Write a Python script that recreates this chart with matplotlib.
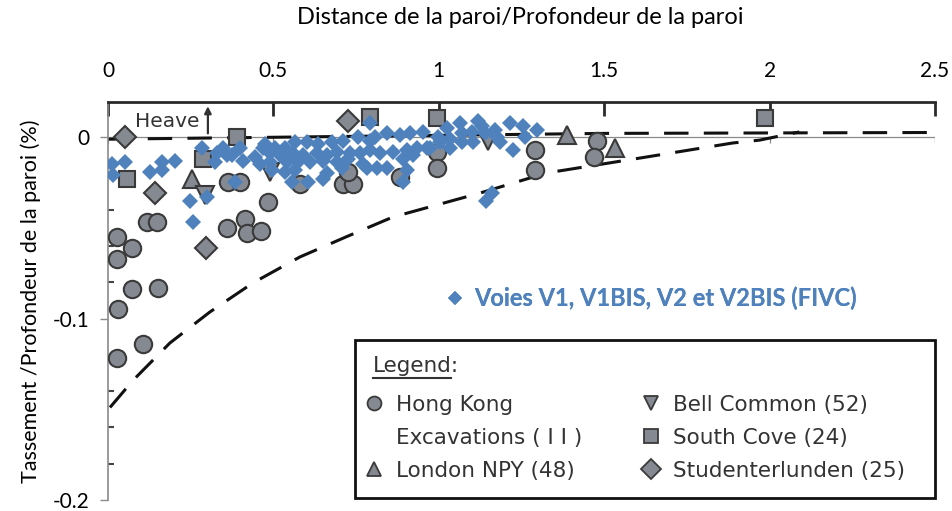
import matplotlib
matplotlib.use("Agg")
import matplotlib.pyplot as plt
from matplotlib.lines import Line2D
from matplotlib.patches import Rectangle

# --- data (x = distance/depth, y = settlement/depth %) ---
blue_x = [0.012, 0.051, 0.015, 0.127, 0.163, 0.163, 0.202, 0.248, 0.299, 0.257, 0.284,
          0.323, 0.329, 0.347, 0.375, 0.399, 0.384, 0.408, 0.444, 0.459, 0.468, 0.360,
          0.474, 0.505, 0.535, 0.565, 0.601, 0.634, 0.677, 0.710, 0.755, 0.792, 0.807,
          0.843, 0.882, 0.912, 0.952, 0.792,
          0.489, 0.520, 0.559, 0.589, 0.631, 0.662, 0.692, 0.731, 0.761, 0.792, 0.822,
          0.861, 0.903, 0.934, 0.964,
          0.489, 0.541, 0.574, 0.610, 0.650, 0.692, 0.725, 0.770, 0.813, 0.843, 0.891, 0.921,
          0.495, 0.535, 0.565, 0.662, 0.707, 0.782, 0.903,
          0.556, 0.604, 0.650, 0.891,
          0.973, 0.997, 1.024, 1.033, 1.063, 1.069, 1.100, 1.118, 1.130, 1.139, 1.169, 1.175,
          1.184, 1.214, 1.254, 1.260, 1.296, 1.224, 1.033, 1.069, 1.103, 1.003, 1.142, 1.160]
blue_y = [-0.015, -0.014, -0.021, -0.019, -0.014, -0.018, -0.013, -0.035, -0.033, -0.047, -0.006,
          -0.014, -0.009, -0.006, -0.010, -0.006, -0.025, -0.013, -0.011, -0.015, -0.006, -0.010,
          -0.004, -0.006, -0.006, -0.003, -0.003, -0.004, -0.003, -0.002, 0.000, -0.002, 0.000,
          0.002, 0.001, 0.002, 0.003, 0.008,
          -0.009, -0.010, -0.009, -0.010, -0.009, -0.010, -0.008, -0.009, -0.009, -0.007, -0.009,
          -0.008, -0.007, -0.006, -0.006,
          -0.014, -0.014, -0.014, -0.014, -0.013, -0.014, -0.012, -0.015, -0.017, -0.017, -0.012, -0.010,
          -0.018, -0.019, -0.018, -0.020, -0.017, -0.017, -0.018,
          -0.025, -0.025, -0.023, -0.025,
          -0.006, 0.000, 0.005, -0.001, 0.008, 0.002, 0.003, 0.009, 0.006, 0.002, 0.004, 0.000,
          -0.003, 0.008, 0.006, 0.000, 0.004, -0.007, -0.006, -0.003, -0.003, -0.003, -0.035, -0.031]

hk_x = [0.027, 0.073, 0.027, 0.073, 0.151, 0.030, 0.106, 0.027, 0.118, 0.148, 0.360, 0.414,
        0.420, 0.462, 0.483, 0.363, 0.399, 0.580, 0.710, 0.740, 0.725, 0.882, 0.994, 0.994,
        1.290, 1.290, 1.477, 1.468]
hk_y = [-0.055, -0.061, -0.067, -0.084, -0.083, -0.095, -0.114, -0.122, -0.047, -0.047, -0.050, -0.045,
        -0.053, -0.052, -0.036, -0.025, -0.025, -0.026, -0.026, -0.026, -0.019, -0.022, -0.008, -0.017,
        -0.007, -0.018, -0.002, -0.011]

npy_x = [0.254, 1.387, 1.532]
npy_y = [-0.023, 0.001, -0.006]

bell_x = [0.293, 0.489, 1.148]
bell_y = [-0.032, -0.019, -0.002]

cove_x = [0.057, 0.287, 0.390, 0.792, 0.994, 1.985]
cove_y = [-0.023, -0.012, 0.000, 0.011, 0.0105, 0.0105]

stud_x = [0.051, 0.142, 0.296, 0.725]
stud_y = [0.000, -0.031, -0.061, 0.009]

# envelope curves of the scanned chart
lower_x = [0.006, 0.076, 0.187, 0.308, 0.438, 0.580, 0.72, 0.861, 1.124, 1.326, 1.628,
           1.888, 1.970, 2.09]
lower_y = [-0.149, -0.134, -0.1135, -0.0964, -0.0804, -0.0661, -0.055, -0.0441, -0.0309,
           -0.0198, -0.0110, -0.0033, -0.0017, 0.0028]
upper_x = [0.0, 1.5, 2.5]
upper_y = [-0.0012, 0.002, 0.0025]

x_ticks = [0, 0.5, 1, 1.5, 2, 2.5]
x_labels = ["0", "0.5", "1", "1.5", "2", "2.5"]
y_ticks = [0, -0.1, -0.2]
y_labels = ["0", "-0.1", "-0.2"]

BLUE = "#4F81BD"
GREY_FACE = "#858a92"
GREY_EDGE = "#3a3a3a"
CALIBRI = ["Lato", "DejaVu Sans"]
W, H = 952, 511

fig = plt.figure(figsize=(9.52, 5.11), dpi=100)
ax = fig.add_axes([108 / W, 11 / H, 827 / W, 398 / H])
ax.set_xlim(0, 2.5)
ax.set_ylim(-0.2, 0.0193)

# scanned envelope lines
ax.plot(lower_x, lower_y, color="#111111", lw=2.2, dashes=(8, 5), zorder=2)
ax.plot(upper_x, upper_y, color="#111111", lw=2.2, dashes=(8, 5), zorder=2)
ax.axhline(0, color="#8a8a8a", lw=0.9, zorder=1)
ax.vlines(x_ticks, -0.0035, 0, color="#8a8a8a", lw=0.9, zorder=1)

grey = dict(linestyle="none", markerfacecolor=GREY_FACE, markeredgecolor=GREY_EDGE,
            markeredgewidth=1.5, zorder=3)
ax.plot(hk_x, hk_y, marker="o", markersize=12.5, **grey)
ax.plot(npy_x, npy_y, marker="^", markersize=12.5, **grey)
ax.plot(bell_x, bell_y, marker="v", markersize=12.5, **grey)
ax.plot(cove_x, cove_y, marker="s", markersize=11, **grey)
ax.plot(stud_x, stud_y, marker="D", markersize=11, **grey)

blue_line, = ax.plot(blue_x, blue_y, marker="D", markersize=8.5, linestyle="none",
                     color=BLUE, markeredgewidth=0, zorder=5)

# "Heave" note from the scan
ax.text(0.082, 0.0088, "Heave", fontsize=14.5, color="#333333", va="center", ha="left",
        family="DejaVu Sans")
ax.annotate("", xy=(0.302, 0.0185), xytext=(0.302, 0.0005),
            arrowprops=dict(arrowstyle="-|>", color="#333333", lw=1.6, mutation_scale=10))

# axes styling
for s in ["right", "bottom"]:
    ax.spines[s].set_visible(False)
ax.spines["left"].set_color("#8a8a8a")
ax.spines["left"].set_linewidth(1.2)
ax.spines["top"].set_color("#2a2a2a")
ax.spines["top"].set_linewidth(2)

ax.xaxis.tick_top()
ax.set_xticks(x_ticks)
ax.set_xticklabels(x_labels, family=CALIBRI, fontsize=15)
ax.tick_params(axis="x", direction="in", length=10, width=2, color="#2a2a2a", pad=15)
ax.set_yticks(y_ticks)
ax.set_yticklabels(y_labels, family=CALIBRI, fontsize=15)
ax.set_yticks([-0.18, -0.16, -0.14, -0.12, -0.08, -0.06, -0.04, -0.02], minor=True)
ax.tick_params(axis="y", which="major", direction="out", length=6, width=1, color="#8a8a8a", pad=7)
ax.tick_params(axis="y", which="minor", direction="in", length=4, width=1.5, color="#444444")

ax.set_ylabel("Tassement /Profondeur de la paroi (%)", family=CALIBRI, fontsize=15.5, labelpad=9)
fig.text(0.546, 1 - 18 / H, "Distance de la paroi/Profondeur de la paroi",
         family=CALIBRI, fontsize=17, ha="center", va="center")

# blue series key
leg_blue = ax.legend([blue_line], ["Voies V1, V1BIS, V2 et V2BIS (FIVC)"], loc="center left",
                     bbox_to_anchor=(446 / W, 1 - 298 / H), bbox_transform=fig.transFigure,
                     frameon=False, handlelength=0.8, handletextpad=0.4, borderpad=0,
                     borderaxespad=0, prop=dict(family=CALIBRI, size=17, weight="bold"),
                     labelcolor=BLUE, markerscale=0.85)
ax.add_artist(leg_blue)

# scanned legend box: frame, underlined heading, entries
fig.add_artist(Rectangle((355 / W, 1 - 498 / H), 580 / W, 158 / H, transform=fig.transFigure,
                         facecolor="white", edgecolor="#111111", lw=2, zorder=6))
head = fig.text(373 / W, 1 - 366 / H, "Legend:", family="DejaVu Sans", fontsize=15.5,
                color="#333333", ha="left", va="center", zorder=7)


def key(marker, size):
    return Line2D([], [], linestyle="none", marker=marker, markersize=size,
                  markerfacecolor=GREY_FACE, markeredgecolor=GREY_EDGE, markeredgewidth=1.3)


handles = [key("o", 10), Line2D([], [], linestyle="none"), key("^", 10),
           key("v", 10), key("s", 10), key("D", 10)]
labels = ["Hong Kong", "Excavations ( I I )", "London NPY (48)",
          "Bell Common (52)", "South Cove (24)", "Studenterlunden (25)"]
leg = fig.legend(handles, labels, ncol=2, loc="upper left",
                 bbox_to_anchor=(363 / W, 1 - 395 / H), bbox_transform=fig.transFigure,
                 borderaxespad=0, borderpad=0, handlelength=1.0, handletextpad=0.53,
                 columnspacing=2.7, labelspacing=0.6, frameon=False,
                 prop=dict(family="DejaVu Sans", size=15.5))
leg.set_zorder(7)
for t in leg.get_texts():
    t.set_color("#333333")

fig.canvas.draw()
bb = head.get_window_extent()
fig.add_artist(Line2D([bb.x0 / W, (bb.x1 - 8) / W], [(bb.y0 - 2) / H, (bb.y0 - 2) / H],
                      transform=fig.transFigure, color="#333333", lw=1.5, zorder=7))

fig.savefig("out.png", dpi=100)
